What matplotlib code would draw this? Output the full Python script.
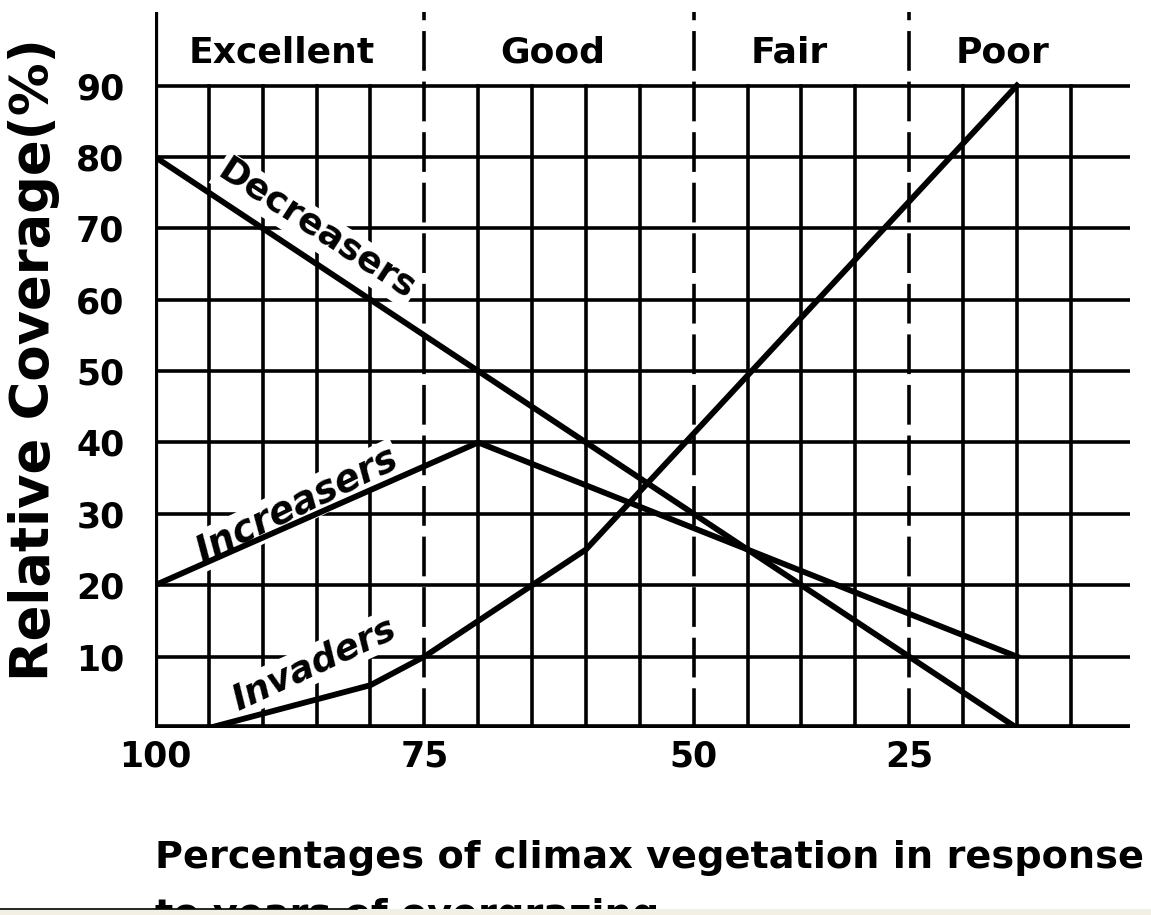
import numpy as np
import matplotlib
matplotlib.use("Agg")
import matplotlib.pyplot as plt
from matplotlib.patches import Rectangle
from matplotlib.lines import Line2D

# x positions are grid-cell indices of the original hand-drawn chart
# (labels 100/75/50/25 sit on cells 0/5/10/14)
x_ticks = [0, 5, 10, 14]
x_ticklabels = ["100", "75", "50", "25"]
y_ticks = [10, 20, 30, 40, 50, 60, 70, 80, 90]

decreasers_x = [0, 16]
decreasers_y = [80, 0]

increasers_x = [0, 6, 16]
increasers_y = [20, 40, 10]

invaders_x = [1, 4, 5, 8, 16]
invaders_y = [0, 6, 10, 25, 90]

classes = ["Excellent", "Good", "Fair", "Poor"]
class_bounds = [5, 10, 14]

W, H = 1151, 915

fig = plt.figure(figsize=(W / 100, H / 100), dpi=100)
ax = fig.add_axes([155 / W, 187 / H, 975 / W, 716 / H])
ax.set_xlim(0, 18.1)
ax.set_ylim(0, 100.3)
for s in ax.spines.values():
    s.set_visible(False)

# grid
grid_lw = 2.6
for y in y_ticks:
    ax.plot([0, 18.1], [y, y], color="black", lw=grid_lw, zorder=1, solid_capstyle="butt")
for x in range(1, 18):
    if x in class_bounds:
        ax.plot([x, x], [0, 100.3], color="black", lw=grid_lw, zorder=1,
                linestyle=(0, (11, 3)))
    else:
        ax.plot([x, x], [-0.8, 90], color="black", lw=grid_lw, zorder=1)
# axes
ax.plot([0, 0], [0, 100.3], color="black", lw=4.5, zorder=4, solid_capstyle="butt")
ax.plot([0, 18.1], [0, 0], color="black", lw=5.5, zorder=4, solid_capstyle="butt")

# curves
line_kw = dict(color="black", lw=4.2, zorder=5, solid_joinstyle="miter")
ax.plot(decreasers_x, decreasers_y, **line_kw)
ax.plot(increasers_x, increasers_y, **line_kw)
ax.plot(invaders_x, invaders_y, **line_kw)

box = dict(facecolor="white", edgecolor="none", pad=1.5)
ax.text(3.0, 69.8, "Decreasers", rotation=-33, rotation_mode="anchor",
        ha="center", va="center", fontsize=26, fontweight="bold", bbox=box, zorder=3)
ax.text(2.63, 31.2, "Increasers", rotation=26, rotation_mode="anchor",
        ha="center", va="center", fontsize=27, fontweight="bold", style="italic",
        bbox=box, zorder=3)
ax.text(2.95, 9.0, "Invaders", rotation=25, rotation_mode="anchor",
        ha="center", va="center", fontsize=26, fontweight="bold", style="italic",
        bbox=box, zorder=3)

# condition classes along the top
class_x = [2.36, 7.38, 11.78, 15.73]
for name, cx in zip(classes, class_x):
    ax.text(cx, 94.6, name, ha="center", va="center", fontsize=26, fontweight="bold")

ax.set_xticks(x_ticks)
ax.set_xticklabels(x_ticklabels, fontsize=25, fontweight="bold")
ax.set_yticks(y_ticks)
ax.set_yticklabels([str(v) for v in y_ticks], fontsize=25, fontweight="bold")
ax.tick_params(axis="x", length=0, pad=8)
ax.tick_params(axis="y", length=0, pad=22)

fig.text(34 / W, 1 - 360 / H, "Relative Coverage(%)", rotation=90,
         ha="center", va="center", fontsize=38, fontweight="bold")

xlab = dict(ha="left", va="baseline", fontsize=27.5, fontweight="bold")
fig.text(155 / W, 1 - 868 / H, "Percentages of climax vegetation in response", **xlab)
fig.text(155 / W, 1 - 926 / H, "to years of overgrazing", **xlab)

# screenshot strip at the bottom
fig.add_artist(Rectangle((0, 0), 1, 6 / H, transform=fig.transFigure,
                         facecolor="#f3efe2", edgecolor="none", zorder=20))
fig.add_artist(Line2D([0, 357 / W], [6.5 / H, 6.5 / H], transform=fig.transFigure,
                      color="black", lw=1.2, zorder=21))

fig.savefig("out.png", dpi=100)
